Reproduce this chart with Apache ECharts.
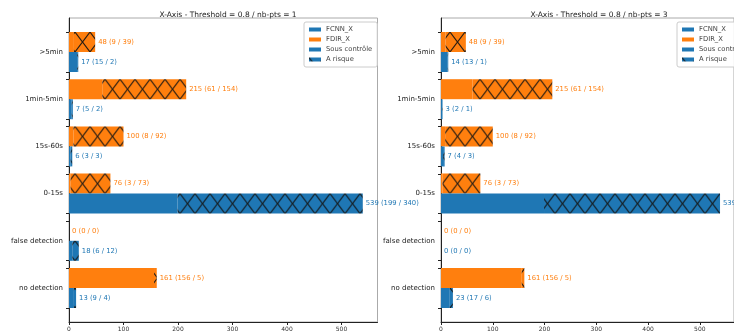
<!DOCTYPE html>
<html><head><meta charset="utf-8">
<script src="https://cdn.jsdelivr.net/npm/echarts@6/dist/echarts.min.js"></script>
<style>html,body{margin:0;padding:0;background:#fff}#c{width:734px;height:336px}</style>
</head><body><div id="c"></div>
<script>
const categories = ['>5min', '1min-5min', '15s-60s', '0-15s', 'false detection', 'no detection'];
const titles = ['X-Axis - Threshold = 0.8 / nb-pts = 1', 'X-Axis - Threshold = 0.8 / nb-pts = 3'];
const fdirSousControle = [9, 61, 8, 3, 0, 156];
const fdirARisque = [39, 154, 92, 73, 0, 5];
const fcnnSousControle1 = [15, 5, 3, 199, 6, 9];
const fcnnARisque1 = [2, 2, 3, 340, 12, 4];
const fcnnSousControle3 = [13, 2, 4, 199, 0, 17];
const fcnnARisque3 = [1, 1, 3, 340, 0, 6];
const xTicks = [0, 100, 200, 300, 400, 500];
const legendNames = ['FCNN_X', 'FDIR_X', 'Sous contrôle', 'A risque'];

const BLUE = '#1f77b4', ORANGE = '#ff7f0e';
const FONT = 'DejaVu Sans';

function makeHatchCanvas(color) {
  const c = document.createElement('canvas');
  c.width = 15; c.height = 20;
  const g = c.getContext('2d');
  g.fillStyle = color; g.fillRect(0, 0, 15, 20);
  g.strokeStyle = 'rgba(20,20,20,0.9)'; g.lineWidth = 1.1;
  g.beginPath();
  g.moveTo(0, 0); g.lineTo(15, 20);
  g.moveTo(15, 0); g.lineTo(0, 20);
  g.stroke();
  return c;
}
const hatchBlue = makeHatchCanvas(BLUE);
const hatchOrange = makeHatchCanvas(ORANGE);

const panels = [
  { left: 69, width: 308.5, xmax: 566, titleX: 223, legendLeft: 304, fcnnS: fcnnSousControle1, fcnnR: fcnnARisque1 },
  { left: 441, width: 302.8, xmax: 566, titleX: 594, legendLeft: 677, fcnnS: fcnnSousControle3, fcnnR: fcnnARisque3 }
];

const chart = echarts.init(document.getElementById('c'), null, { renderer: 'canvas' });

const yTickVals = [];
categories.forEach((c, i) => { yTickVals.push(i - 0.42, i + 0.42); });

const option = {
  animation: false,
  backgroundColor: '#fff',
  textStyle: { fontFamily: FONT },
  title: [], legend: [], grid: [], xAxis: [], yAxis: [], series: []
};

panels.forEach((p, k) => {
  const fg = 2 * k, bg = 2 * k + 1;
  option.title.push({
    text: titles[k], left: p.titleX, top: 6, textAlign: 'center',
    textStyle: { fontFamily: FONT, fontSize: 7.5, fontWeight: 'normal', color: '#222' }
  });
  option.grid.push({ left: p.left, width: p.width, top: 18, height: 304, show: true, borderColor: '#aaa', borderWidth: 1, backgroundColor: 'transparent' });
  option.grid.push({ left: p.left, width: p.width, top: 28.4, height: 283.2 });
  option.xAxis.push({
    type: 'value', gridIndex: fg, min: 0, max: p.xmax,
    axisLine: { show: true, onZero: false, lineStyle: { color: '#222', width: 1 } },
    axisTick: { show: true, length: 3, customValues: xTicks, lineStyle: { color: '#222' } },
    axisLabel: { customValues: xTicks, fontSize: 6, color: '#333', margin: 4, fontFamily: FONT },
    splitLine: { show: false }
  });
  option.xAxis.push({ type: 'value', gridIndex: bg, min: 0, max: p.xmax, show: false, axisLine: { show: false, onZero: false }, splitLine: { show: false } });
  option.yAxis.push({
    type: 'value', gridIndex: fg, inverse: true, min: -0.72, max: 5.72,
    axisLine: { show: true, onZero: false, lineStyle: { color: '#222', width: 1 } },
    axisTick: { show: true, length: 3, customValues: yTickVals, lineStyle: { color: '#222' } },
    axisLabel: { show: false }, splitLine: { show: false }
  });
  option.yAxis.push({
    type: 'category', gridIndex: bg, inverse: true, data: categories,
    axisLine: { show: false, onZero: false }, axisTick: { show: false },
    axisLabel: { fontSize: 7, color: '#222', margin: 6, fontFamily: FONT }
  });
  const lab = (sArr, rArr, color) => ({
    show: true, position: 'right', distance: 3, fontSize: 6.8, color: color, fontFamily: FONT,
    formatter: (pp) => `${sArr[pp.dataIndex] + rArr[pp.dataIndex]} (${sArr[pp.dataIndex]} / ${rArr[pp.dataIndex]})`
  });
  const common = { type: 'bar', xAxisIndex: bg, yAxisIndex: bg, barWidth: 20, barGap: '0%', silent: true };
  option.series.push(Object.assign({}, common, { name: 'FDIR_X', stack: 'fdir' + k, data: fdirSousControle.slice(), itemStyle: { color: ORANGE } }));
  option.series.push(Object.assign({}, common, { name: 'FDIR_X risque', stack: 'fdir' + k, data: fdirARisque.slice(), itemStyle: { color: { image: hatchOrange, repeat: 'repeat' } }, label: lab(fdirSousControle, fdirARisque, ORANGE) }));
  option.series.push(Object.assign({}, common, { name: 'FCNN_X', stack: 'fcnn' + k, data: p.fcnnS.slice(), itemStyle: { color: BLUE } }));
  option.series.push(Object.assign({}, common, { name: 'A risque', stack: 'fcnn' + k, data: p.fcnnR.slice(), itemStyle: { color: { image: hatchBlue, repeat: 'repeat' } }, label: lab(p.fcnnS, p.fcnnR, BLUE) }));
  option.series.push({ type: 'line', name: 'Sous contrôle', xAxisIndex: bg, yAxisIndex: bg, data: [], itemStyle: { color: BLUE } });
  option.legend.push({
    orient: 'vertical', left: p.legendLeft, top: 22, icon: 'rect', itemWidth: 12, itemHeight: 4, itemGap: 3,
    padding: [4, 5], borderColor: '#ccc', borderWidth: 1, borderRadius: 2, backgroundColor: 'rgba(255,255,255,0.85)',
    textStyle: { fontSize: 6.8, color: '#444', fontFamily: FONT },
    data: [
      { name: 'FCNN_X' }, { name: 'FDIR_X' },
      { name: 'Sous contrôle', icon: 'rect', itemStyle: { color: BLUE } },
      { name: 'A risque' }
    ]
  });
});

chart.setOption(option);

// align hatch pattern phase with each bar's top edge (as matplotlib hatching looks)
try {
  const model = chart.getModel();
  const upd = option.series.map((s, si) => {
    if (s.type !== 'bar' || !/risque/.test(s.name)) return {};
    const data = model.getSeriesByIndex(si).getData();
    const img = s.name === 'A risque' ? hatchBlue : hatchOrange;
    return {
      data: s.data.map((v, i) => {
        const l = data.getItemLayout(i);
        const top = l ? Math.min(l.y, l.y + l.height) : 0;
        return { value: v, itemStyle: { color: { image: img, repeat: 'repeat', x: 0, y: top } } };
      })
    };
  });
  chart.setOption({ series: upd });
} catch (e) { console.error(e); }
</script>
</body></html>
